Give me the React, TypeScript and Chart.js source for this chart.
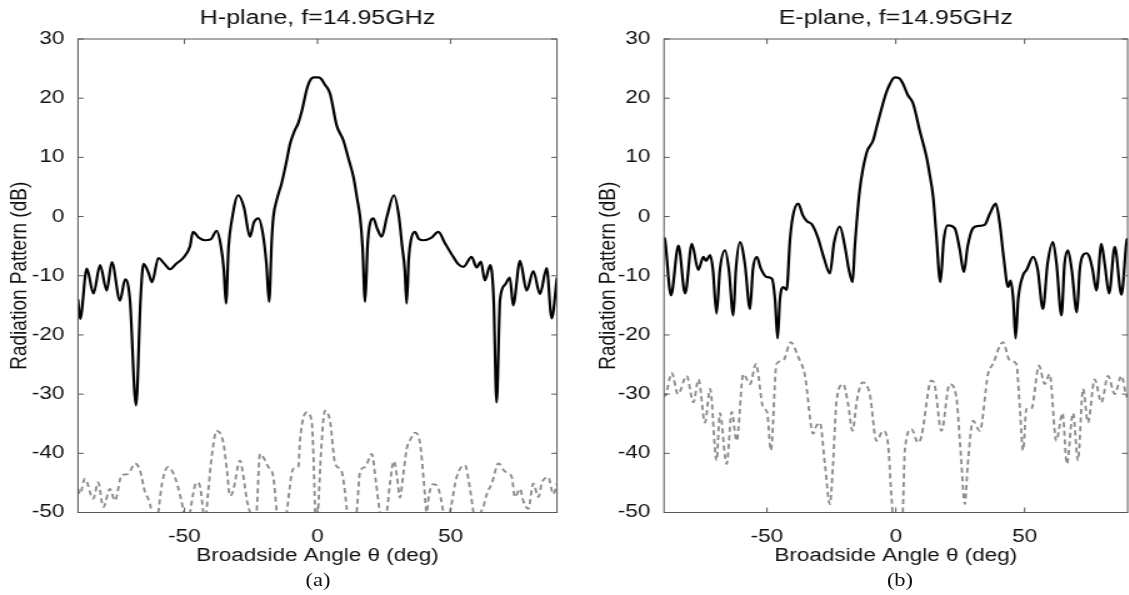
import React, { useEffect, useRef } from "react";
import { Chart, registerables } from "chart.js";

Chart.register(...registerables);

// ---------- data ----------
const xTicks = [-50, 0, 50];
const yTicks = [30, 20, 10, 0, -10, -20, -30, -40, -50];

const hTitle = "H-plane, f=14.95GHz";
const eTitle = "E-plane, f=14.95GHz";
const xLabel = "Broadside Angle θ (deg)";
const yLabel = "Radiation Pattern (dB)";

const hCoAngle = [-90, -89.2, -86.7, -84.2, -81.7, -79.2, -77.3, -74.2, -72.3, -70.5, -68.2, -66.5, -65.4, -63.5, -62.2, -59.8, -57.5, -55.4, -53.2, -50.5, -47.9, -46.8, -44.5, -42.3, -40, -37.9, -36.3, -35.2, -34.4, -33.4, -32.2, -29.8, -27.6, -25.4, -23.9, -22.2, -20.5, -19.2, -18.2, -17.2, -16.6, -15.2, -13.5, -11.8, -10.3, -8.5, -7.3, -5.8, -4.1, -2.8, -1.3, 0.2, 1.5, 2.6, 4.7, 7.2, 9.7, 11.5, 13.5, 14.9, 16, 16.9, 17.9, 18.8, 19.4, 21, 22.4, 24.1, 26.1, 28.7, 30.6, 31.8, 32.8, 33.5, 34.3, 35.1, 36.6, 38.1, 39.8, 42.7, 45.4, 47.9, 51, 52.8, 54.8, 57.9, 59.8, 61.4, 62.9, 64.9, 66.2, 67.3, 68.6, 70.5, 72.3, 73.5, 76.1, 78.6, 81.1, 83.6, 86.1, 88, 90];
const hCoDb = [-14, -17.3, -8.8, -13.0, -8.2, -12.5, -7.7, -14.2, -10.6, -14, -31.9, -14, -8.0, -9.5, -11.1, -7.0, -8, -8.9, -8.0, -7.0, -5.0, -2.6, -3.6, -4.0, -3.8, -2.4, -5, -9, -14.7, -5, -0.6, 3.6, 1.5, -3.4, -1.0, -0.3, -3, -8, -14.4, -4, -0.1, 3, 5.6, 9, 12.3, 14.6, 15.7, 18, 21.4, 23, 23.5, 23.5, 23.2, 22.4, 20.8, 15.4, 12.9, 10, 6.7, 3, -0.1, -5, -14.4, -5, -2, -0.3, -2, -3.4, 0, 3.6, 0, -5, -9, -14.7, -7, -4, -2.6, -3.8, -4.0, -3.6, -2.6, -4.5, -6.8, -8, -8.5, -6.8, -8.6, -7.6, -10.8, -8.2, -14, -31.4, -14, -11.5, -10.3, -15, -7.5, -12.5, -9.2, -13.1, -8.7, -17.2, -10.3];

const hXpAngle = [-90, -89.3, -87.4, -84.3, -82.4, -80.5, -78, -76.1, -73.6, -71.2, -68.6, -66.7, -64.8, -63.6, -62.3, -61.1, -59.8, -58.4, -56.1, -53.6, -51.7, -50.4, -49.4, -47.9, -45.4, -44.2, -42.9, -42.3, -41.2, -39.6, -37.9, -35.4, -34, -32.9, -31.8, -29.1, -28, -26.5, -25.4, -24.2, -22.9, -21.6, -18.5, -16.6, -15.3, -13.7, -11.6, -9.1, -7.2, -6.6, -4.1, -2.2, -1.2, -0.6, 0.2, 1.3, 2.8, 4.7, 6.6, 9.1, 11, 12.2, 14.7, 16, 17.9, 20.4, 22, 23.5, 24.7, 26, 27.2, 28.7, 29.9, 31, 32.1, 33.5, 35.1, 36.6, 38.5, 40, 41, 41.9, 43.5, 45.3, 47.3, 48.3, 49.8, 52.3, 55.4, 57.3, 58.6, 59.9, 61.4, 62.3, 63.6, 65.5, 68, 70.5, 73, 74.2, 76.1, 77.3, 79.2, 81.1, 83, 84.3, 86.7, 88.6, 90];
const hXpDb = [-46, -46.9, -44.3, -47.7, -44.9, -49.1, -46, -48, -43.7, -43.5, -41.7, -42.9, -46.6, -47.7, -50, -55, -50, -45, -42.3, -44, -47, -50, -55, -50, -44.9, -45.5, -50, -52, -47, -40, -36.2, -38.2, -43, -47.2, -46.5, -41.2, -43.5, -48, -50, -53, -50, -40.1, -42.3, -44, -50, -56, -50, -42.6, -42.3, -37.9, -33.1, -34.5, -45, -55, -50, -40, -32.8, -34.5, -41.7, -43.1, -49.4, -55, -50, -43.1, -42.3, -40.1, -45, -50, -51, -50, -45.2, -41.3, -44, -47.5, -44, -39.3, -37.5, -36.5, -38.2, -45, -50, -47, -45.2, -45.8, -50, -53, -50, -44, -42, -46, -50, -54, -50, -49.1, -46.9, -45.1, -41.7, -43.1, -44, -47.4, -46, -48, -49.4, -45.1, -47.4, -45, -44, -46.9, -45.1];

const eCoAngle = [-90, -89.6, -87.3, -84.4, -81.8, -79.2, -76.7, -74.7, -73.7, -72.1, -71, -69.6, -68.3, -66.3, -64.8, -63.1, -62.1, -60.5, -58.6, -56.6, -55.5, -54, -52.4, -50.2, -48.1, -46.9, -45.9, -45, -43.7, -42.4, -41.1, -40, -37.9, -36.1, -34.5, -32.6, -30.3, -27.9, -25.6, -24, -21.7, -19.8, -18.2, -16.8, -15.9, -14, -11.4, -8.8, -7.4, -5.5, -3.9, -2.3, -0.4, 1.2, 2.7, 4.7, 6.7, 9.3, 11.9, 13.2, 14.5, 15.7, 17.3, 18.6, 20.2, 22.9, 24.8, 26.4, 27.9, 29.9, 31.9, 34.5, 36.5, 38.8, 40.3, 41.9, 43.6, 44.6, 45.6, 46.5, 47.5, 49.4, 50.8, 53.3, 55.1, 57.1, 58.9, 61, 62.4, 64.3, 65.5, 66.8, 68.3, 70.3, 71.4, 72.7, 74.1, 75.3, 76.4, 77.9, 79.8, 81.1, 82.8, 85, 87.6, 89.7, 90];
const eCoDb = [-3.5, -4, -13.3, -4.9, -13, -4.6, -9, -6.8, -7.5, -6.5, -9, -16.4, -9, -5.7, -9, -16.7, -9, -4.3, -8, -15.6, -9, -6.8, -8.8, -10.2, -10.5, -14, -20.6, -14, -11.9, -12.4, -4, 0, 2.2, 0.2, -0.8, -1.3, -3.5, -7, -9.6, -4.5, -1.7, -5, -9, -11.1, -5, 4.5, 10.7, 12.9, 15.2, 18.3, 20.7, 22.4, 23.5, 23.4, 22.5, 20.5, 19.1, 14.5, 10.1, 7, 3.3, -3, -11.1, -4, -1.5, -2.0, -5.5, -9.4, -5, -2, -1.6, -1.4, 0.5, 2.2, -1, -7, -11.9, -10.8, -14, -20.6, -14, -9.9, -9, -6.8, -9, -15.6, -8, -4.3, -8, -16.7, -8, -5.7, -9, -16.2, -9, -6.5, -6.2, -7, -9, -12.5, -4.6, -8, -13, -5.1, -13.2, -3.9, -3.7];

const eXpAngle = [-90, -89.6, -87, -84.6, -81.2, -78.6, -76.6, -74.1, -72.1, -69.6, -68.3, -65.7, -63.7, -61.8, -59.2, -56.6, -54.3, -51.5, -50, -48.5, -46.3, -43.7, -40.8, -37.9, -35.3, -32.1, -31, -29.5, -27.5, -25.6, -24.4, -23, -20.4, -18.6, -16.8, -15.1, -12.9, -10.1, -7.5, -4.9, -3, -1.9, -1.3, -0.8, 0.4, 1.6, 2.7, 3.5, 6.1, 8.6, 9.9, 13.8, 15.1, 17.7, 20.9, 23.5, 25.2, 26.8, 27.9, 30, 32.6, 35.8, 37.7, 41.6, 44.2, 46.8, 48.1, 49.4, 50.7, 52.6, 55.6, 57.8, 59.7, 62.3, 64.7, 66.4, 68.8, 70.7, 72.7, 74.6, 77.2, 79.8, 82.4, 85, 87.6, 89.8, 90];
const eXpDb = [-30, -30.3, -26.4, -30, -26.9, -31.4, -27.5, -34.8, -29.1, -41.2, -33.2, -41.8, -33, -37.9, -26.6, -28.3, -24.9, -32.3, -33, -39.5, -24.9, -24.3, -21.2, -23.7, -26.8, -36.7, -35.5, -34.8, -42, -48.6, -42, -31.1, -28.3, -31.5, -36.2, -31, -28, -30, -37.9, -36.2, -38.5, -46, -50, -56, -51, -56, -50, -39.5, -35.9, -38.2, -37.2, -27.7, -28.5, -36.2, -28.3, -30.5, -40, -48.6, -42, -34.5, -36.2, -26.6, -24.9, -21.2, -24.3, -24.9, -32, -39.5, -32.5, -32.5, -25.2, -28.3, -26.6, -37.9, -33.2, -41.8, -33.2, -41.2, -29.1, -34.8, -27.5, -31.4, -26.9, -30, -26.9, -30.5, -30.3];

// ---------- styling ----------
const FONT = '"Liberation Sans", Arial, Helvetica, sans-serif';
const TEXT = "#111111";
const AXIS = "#555555";
const STRETCH = 1.25;

const toPts = (a: number[], b: number[]) => a.map((x, i) => ({ x, y: b[i] }));

const boxPlugin = {
  id: "matlabBox",
  afterDatasetsDraw(chart: any) {
    const { ctx, chartArea, scales } = chart;
    const { left, right, top, bottom } = chartArea;
    const xs = scales.x;
    const ys = scales.y;
    ctx.save();
    ctx.strokeStyle = AXIS;
    ctx.lineWidth = 1;
    ctx.strokeRect(left, top, right - left, bottom - top);
    ctx.beginPath();
    xTicks.forEach((v) => {
      const px = xs.getPixelForValue(v);
      ctx.moveTo(px, bottom);
      ctx.lineTo(px, bottom - 5);
      ctx.moveTo(px, top);
      ctx.lineTo(px, top + 5);
    });
    yTicks.forEach((v) => {
      const py = ys.getPixelForValue(v);
      ctx.moveTo(left, py);
      ctx.lineTo(left + 4.5, py);
      ctx.moveTo(right, py);
      ctx.lineTo(right - 4.5, py);
    });
    ctx.stroke();
    ctx.restore();
  },
};

type PanelProps = {
  title: string;
  coAngle: number[];
  coDb: number[];
  xpAngle: number[];
  xpDb: number[];
  yWidth: number;
  yTitlePad: number;
  rightPad: number;
};

function Panel(props: PanelProps) {
  const ref = useRef<HTMLCanvasElement | null>(null);
  useEffect(() => {
    if (!ref.current) return;
    const tickFont = { family: FONT, size: 18 };
    const chart = new Chart(ref.current, {
      type: "line",
      data: {
        datasets: [
          {
            data: toPts(props.coAngle, props.coDb),
            borderColor: "#000000",
            borderWidth: 2.2,
            pointRadius: 0,
            cubicInterpolationMode: "monotone",
            fill: false,
          },
          {
            data: toPts(props.xpAngle, props.xpDb),
            borderColor: "#8a8a8a",
            borderWidth: 1.8,
            borderDash: [5, 3.5],
            pointRadius: 0,
            cubicInterpolationMode: "monotone",
            fill: false,
          },
        ],
      } as any,
      options: {
        animation: false,
        responsive: true,
        maintainAspectRatio: false,
        layout: { padding: { left: 0, right: props.rightPad, top: 0, bottom: 0 } },
        plugins: {
          legend: { display: false },
          tooltip: { enabled: false },
          title: {
            display: true,
            fullSize: false,
            text: props.title,
            color: TEXT,
            font: { family: FONT, size: 20, weight: "normal" },
            padding: { top: 6.3, bottom: 8.7 },
          },
        },
        scales: {
          x: {
            type: "linear",
            min: -90,
            max: 90,
            afterBuildTicks: (s: any) => {
              s.ticks = xTicks.map((v) => ({ value: v }));
            },
            ticks: { color: TEXT, font: tickFont, padding: 6, maxRotation: 0 },
            grid: { display: false },
            border: { display: false },
            title: {
              display: true,
              text: xLabel,
              color: TEXT,
              font: { family: FONT, size: 18 },
              padding: { top: 0, bottom: 3.2 },
            },
            afterFit: (s: any) => {
              s.height = 57.5;
            },
          },
          y: {
            type: "linear",
            min: -50,
            max: 30,
            afterBuildTicks: (s: any) => {
              s.ticks = yTicks.map((v) => ({ value: v }));
            },
            ticks: { color: TEXT, font: tickFont, padding: 3 },
            grid: { display: false },
            border: { display: false },
            title: {
              display: true,
              text: yLabel,
              color: TEXT,
              font: { family: FONT, size: 19 },
              padding: { top: props.yTitlePad, bottom: 0 },
            },
            afterFit: (s: any) => {
              s.width = props.yWidth;
            },
          },
        },
      } as any,
      plugins: [boxPlugin],
    });
    return () => chart.destroy();
  }, []);
  return <canvas ref={ref} />;
}

export default function App() {
  return (
    <div
      style={{
        position: "absolute",
        left: 0,
        top: 0,
        width: 903.2,
        height: 595,
        transform: `scaleX(${STRETCH})`,
        transformOrigin: "0 0",
        background: "#ffffff",
      }}
    >
      <div style={{ position: "absolute", left: 0, top: 0, width: 470, height: 570 }}>
        <Panel title={hTitle} coAngle={hCoAngle} coDb={hCoDb} xpAngle={hXpAngle} xpDb={hXpDb} yWidth={62.4} yTitlePad={4.6} rightPad={24.4} />
      </div>
      <div style={{ position: "absolute", left: 470, top: 0, width: 433.2, height: 570 }}>
        <Panel title={eTitle} coAngle={eCoAngle} coDb={eCoDb} xpAngle={eXpAngle} xpDb={eXpDb} yWidth={61.2} yTitlePad={5} rightPad={0.8} />
      </div>
      <div style={{ position: "absolute", left: 234.4, top: 569, width: 40, height: 22, lineHeight: "22px", textAlign: "center", fontFamily: '"Liberation Serif", "Times New Roman", serif', fontSize: 18, color: TEXT }}>(a)</div>
      <div style={{ position: "absolute", left: 700, top: 569, width: 40, height: 22, lineHeight: "22px", textAlign: "center", fontFamily: '"Liberation Serif", "Times New Roman", serif', fontSize: 18, color: TEXT }}>(b)</div>
    </div>
  );
}
